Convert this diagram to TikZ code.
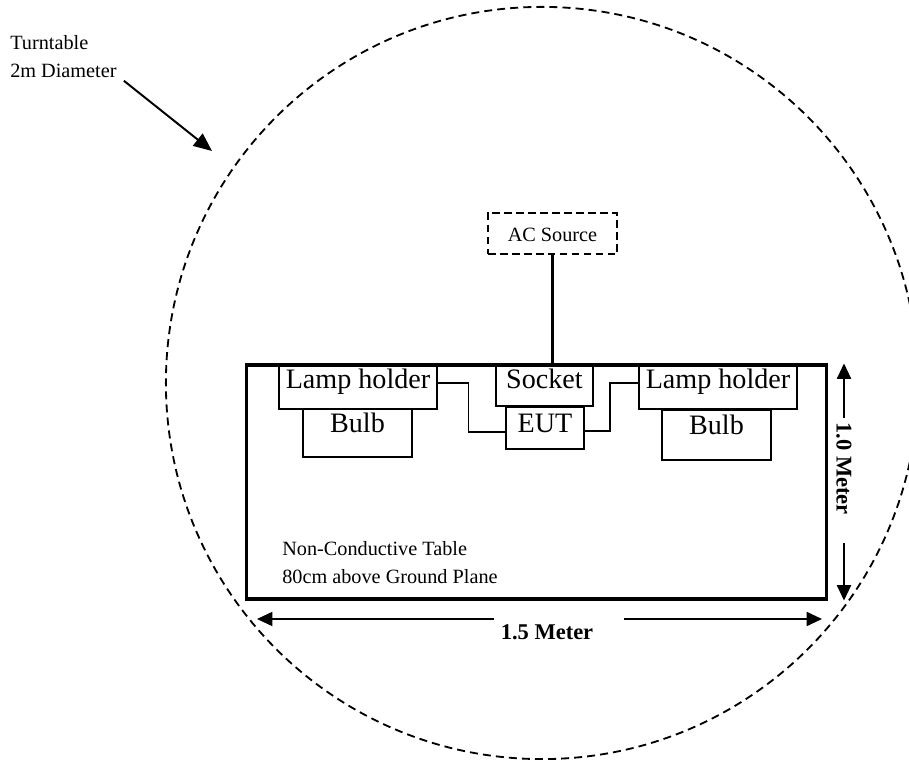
\documentclass[tikz,border=0pt]{standalone}
\usepackage{fontspec}
\setmainfont{Liberation Serif}
\usetikzlibrary{arrows.meta}

\begin{document}
\begin{tikzpicture}[x=0.025cm, y=-0.025cm,
    part/.style={draw, line width=0.9pt, inner sep=0pt, font=\fontsize{20}{24}\selectfont},
    note/.style={inner sep=0pt, align=left, font=\fontsize{14.4}{20}\selectfont},
    dimtext/.style={inner sep=0pt, font=\fontsize{16}{19}\selectfont\bfseries},
    dim/.style={line width=1.4pt, -{Triangle[length=11pt, width=10pt]}},
    wire/.style={line width=0.9pt}]
    \clip (0,0) rectangle (909,760);

    % turntable
    \draw[line width=1.3pt, dash pattern=on 5.7pt off 3.6pt] (542,383) circle[radius=9.4cm];
    \node[note, anchor=north west] (turntable) at (10,35) {Turntable\\2m Diameter};
    \coordinate (rim) at (212,151);
    \draw[line width=1.4pt, -{Triangle[length=13pt, width=11pt]}]
        ([xshift=5pt, yshift=-2pt]turntable.south east) -- (rim);

    % table
    \node[draw, line width=2.2pt, inner sep=0pt, minimum width=14.475cm, minimum height=5.85cm]
        (table) at (536.5,482) {};
    \node[note, anchor=north west] (tabletext) at (282,541)
        {Non-Conductive Table\\80cm above Ground Plane};

    % parts on the table
    \node[part, minimum width=3.95cm, text height=0.6cm, text depth=0.5cm] (holderL) at (358,387) {Lamp holder};
    \node[part, minimum width=2.725cm, text height=0.6cm, text depth=0.6cm] (bulbL) at (357.5,433) {Bulb};
    \node[part, minimum width=2.425cm, text height=0.6cm, text depth=0.425cm] (socket) at (544.5,385.5) {Socket};
    \node[part, minimum width=1.95cm, text height=0.65cm, text depth=0.4cm] (eut) at (545,428) {EUT};
    \node[part, minimum width=3.95cm, text height=0.6cm, text depth=0.5cm] (holderR) at (718,387) {Lamp holder};
    \node[part, minimum width=2.725cm, text height=0.625cm, text depth=0.625cm] (bulbR) at (716.5,435) {Bulb};
    \node[part, line width=1.5pt, dash pattern=on 5.5pt off 3pt, font=\fontsize{14.4}{18}\selectfont,
        minimum width=3.225cm, text height=0.725cm, text depth=0.3cm] (acsrc) at (552.5,233.5) {AC Source};

    % wiring
    \draw[line width=1.5pt] (acsrc.south) -- (acsrc.south |- socket.north);
    \draw[wire] ([yshift=2.8pt]holderL.east) -- ++(31,0) |- ([yshift=-2.8pt]eut.west);
    \draw[line width=1.5pt] ([yshift=-2pt]eut.east) -- ++(25,0) |- ([yshift=2.8pt]holderR.west);

    % dimensions
    \node[dimtext, rotate=-90] (height) at (844,468.5) {1.0 Meter};
    \draw[dim] ([yshift=3pt]height.west) -- (height.west |- table.north);
    \draw[dim] ([yshift=-20pt]height.east) -- (height.east |- table.south);
    \node[dimtext] (width) at (547,632.5) {1.5 Meter};
    \coordinate (wl) at (257,619);
    \coordinate (wr) at (822,619);
    \coordinate (wlin) at (494,619);
    \coordinate (wrin) at (624,619);
    \draw[dim] (wlin) -- (wl);
    \draw[dim] (wrin) -- (wr);
\end{tikzpicture}
\end{document}
